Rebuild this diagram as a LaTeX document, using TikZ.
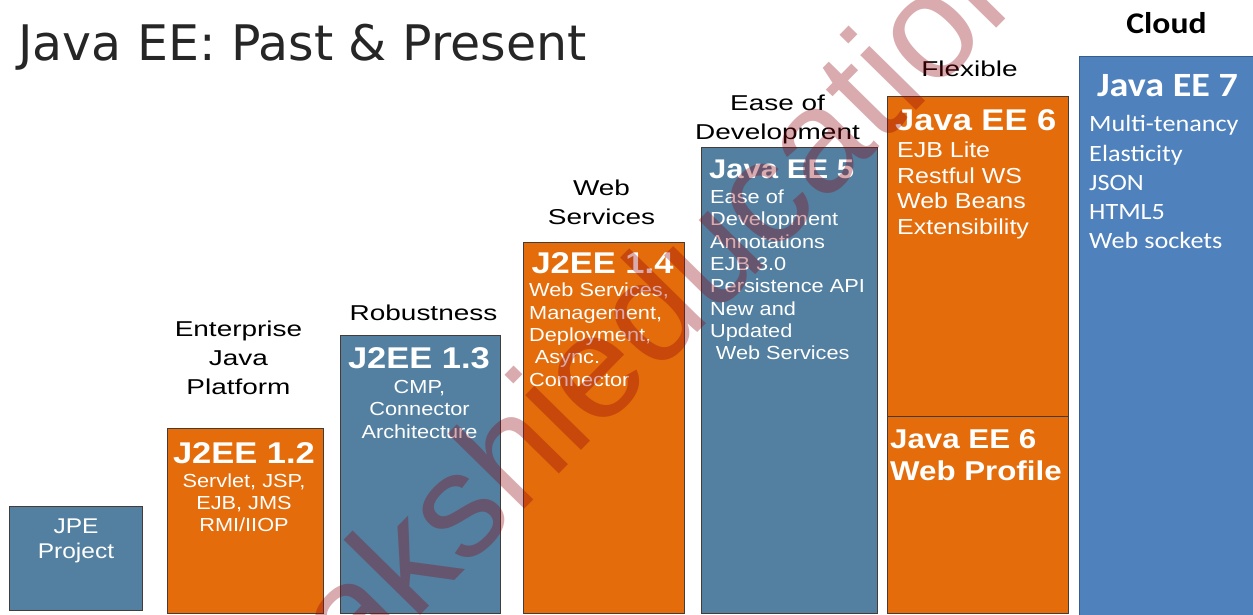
\documentclass[tikz,border=0pt]{standalone}
\usepackage{fontspec}
\setmainfont{Liberation Sans}
\newfontfamily\capfont{Liberation Sans}[FakeStretch=1.3]
\newfontfamily\boxfont{Liberation Sans}[FakeStretch=1.15]
\newfontfamily\calfont{Carlito}[FakeStretch=1.12]
\newfontfamily\headfont{DejaVu Sans}

\definecolor{steel}{RGB}{83,128,161}
\definecolor{orng}{RGB}{228,108,10}
\definecolor{skyblue}{RGB}{79,129,189}
\definecolor{skyedge}{RGB}{56,93,138}
\definecolor{edge}{RGB}{70,60,55}
\definecolor{titlegray}{RGB}{38,38,38}
\definecolor{stamp}{RGB}{140,0,11}

\tikzset{
  panel/.style={draw=edge, line width=1.1pt, inner sep=0, anchor=north west},
  steelpanel/.style={panel, fill=steel},
  orangepanel/.style={panel, fill=orng},
  cloudpanel/.style={panel, draw=skyedge, fill=skyblue},
  theme/.style={inner sep=0, anchor=north, align=center, text=black,
    font=\capfont\fontsize{21.5}{29}\selectfont},
  head/.style={inner sep=0, anchor=north, text=white,
    font=\boxfont\bfseries\fontsize{30}{36}\selectfont},
  body/.style={inner sep=0, anchor=north, align=center, text=white,
    font=\boxfont\fontsize{18.9}{22}\selectfont},
  bodyleft/.style={body, anchor=north west, align=left},
}

\begin{document}
\begin{tikzpicture}[x=1pt,y=-1pt]
\useasboundingbox (0,0) rectangle (1253,615);
\fill[white] (0,0) rectangle (1253,615);

% heading
\node[anchor=base west, inner sep=0, text=titlegray,
  font=\headfont\fontsize{49}{58}\selectfont] (title) at (18,61) {Java EE: Past \& Present};

% release panels
\node[steelpanel, minimum width=133, minimum height=104] (jpe) at (9,506) {};
\node[orangepanel, minimum width=156, minimum height=185] (j12) at (167,428) {};
\node[steelpanel, minimum width=160, minimum height=278] (j13) at (340,335) {};
\node[orangepanel, minimum width=161, minimum height=371] (j14) at (523,242) {};
\node[steelpanel, minimum width=176, minimum height=466] (ee5) at (701,147) {};
\node[orangepanel, minimum width=181, minimum height=320] (ee6) at (887,96) {};
\node[orangepanel, minimum width=181, minimum height=197] (ee6web) at (887,416) {};
\node[cloudpanel, minimum width=178, minimum height=564] (ee7) at (1079,56) {};

% themes above the panels
\node[theme] (enterprise) at (238.5,316.4) {\strut Enterprise\\Java\\Platform};
\node[theme] (robust) at (423.5,299.7) {\strut Robustness};
\node[theme] (websvc) at (601.5,174.7) {\strut Web\\Services};
\node[theme, font=\capfont\fontsize{21.5}{29.3}\selectfont] (ease) at (777.5,89.7) {\strut Ease of\\Development};
\node[theme] (flex) at (969.5,55.7) {\strut Flexible};
\node[theme, font=\calfont\bfseries\fontsize{30}{36}\selectfont] (cloud) at (1166.5,8.1) {\strut Cloud};

% JPE
\node[body, font=\boxfont\fontsize{21.3}{25}\selectfont] (jpetxt) at (76,515.5) {\strut JPE\\Project};

% J2EE 1.2
\node[head] (j12head) at (244,437.8) {\strut J2EE 1.2};
\node[body] (j12txt) at (244,471.6) {\strut Servlet, JSP,\\EJB, JMS\\RMI/IIOP};

% J2EE 1.3
\node[head] (j13head) at (419,342.8) {\strut J2EE 1.3};
\node[body, font=\boxfont\fontsize{18.9}{22.5}\selectfont] (j13txt) at (419.5,377.3) {\strut CMP,\\Connector\\Architecture};

% J2EE 1.4
\node[head] (j14head) at (602.5,247.8) {\strut J2EE 1.4};
\node[bodyleft, font=\boxfont\fontsize{18.9}{22.3}\selectfont] (j14txt) at (529,281.1)
  {\strut Web Services,\\Management,\\Deployment,\\\hspace*{0.3em}Async.\\Connector};

% Java EE 5
\node[head, anchor=north west, font=\boxfont\bfseries\fontsize{27}{32}\selectfont] (ee5head) at (709,155.6) {\strut Java EE 5};
\node[bodyleft, font=\boxfont\fontsize{18.9}{22.3}\selectfont] (ee5txt) at (710,187.7)
  {\strut Ease of\\Development\\Annotations\\EJB 3.0\\Persistence API\\New and\\Updated\\\hspace*{0.3em}Web Services};

% Java EE 6
\node[head, anchor=north west] (ee6head) at (895,105.5) {\strut Java EE 6};
\node[bodyleft, font=\boxfont\fontsize{21.7}{25.6}\selectfont] (ee6txt) at (897,139.4)
  {\strut EJB Lite\\Restful WS\\Web Beans\\Extensibility};
\node[head, anchor=north west, align=left, font=\boxfont\bfseries\fontsize{27.2}{31.7}\selectfont] (ee6webtxt) at (890,426.1)
  {\strut Java EE 6\\Web Profile};

% Java EE 7
\node[head, font=\calfont\bfseries\fontsize{34}{40}\selectfont] (ee7head) at (1167.5,68.7) {\strut Java EE 7};
\node[bodyleft, font=\calfont\fontsize{23.4}{29.2}\selectfont] (ee7txt) at (1089,111.3)
  {\strut Multi-tenancy\\Elasticity\\JSON\\HTML5\\Web sockets};

% translucent stamp across the slide
\node[rotate=45.5, inner sep=0, text=stamp, text opacity=0.33,
  font=\fontsize{148}{148}\selectfont] (stamptxt) at (638,318) {sakshieducation};
\end{tikzpicture}
\end{document}
